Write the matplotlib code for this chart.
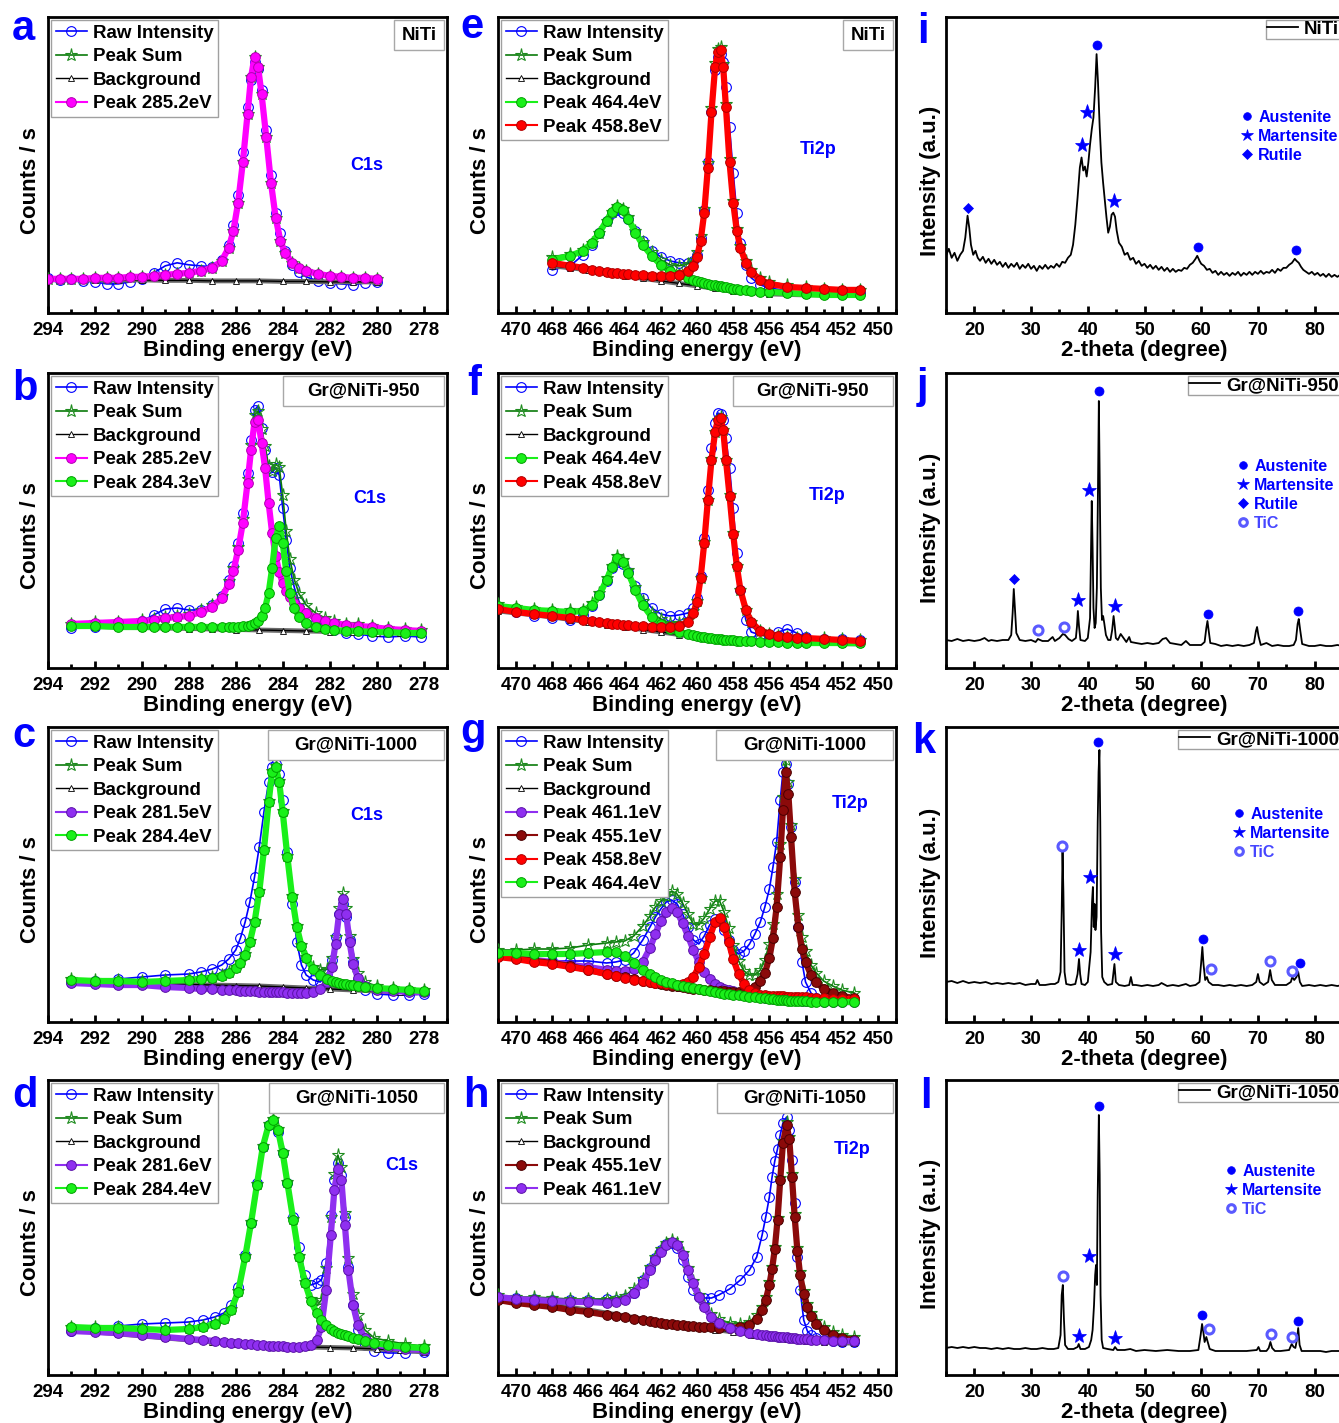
import matplotlib
matplotlib.use("Agg")
import matplotlib.pyplot as plt
from matplotlib.lines import Line2D
from matplotlib.patches import Rectangle
from matplotlib.ticker import MultipleLocator

plt.rcParams["font.family"] = ["Liberation Sans", "DejaVu Sans"]
plt.rcParams["font.weight"] = "bold"

# ---------------- XPS C1s (counts, arbitrary units) ----------------
# a: NiTi
a_be = [294, 293.5, 293, 292.5, 292, 291.5, 291, 290.5, 290, 289.5, 289, 288.5, 288, 287.5, 287,
        286.6, 286.3, 286.1, 285.9, 285.7, 285.5, 285.35, 285.2, 285.05, 284.9, 284.7, 284.5, 284.3,
        284.1, 283.9, 283.6, 283.3, 283, 282.5, 282, 281.5, 281, 280.5, 280]
a_raw = [35, 33, 34, 32, 31, 29, 29, 31, 34, 40, 47, 50, 48, 47, 46, 53, 68, 88, 118, 160, 205, 232,
         250, 243, 222, 182, 138, 100, 80, 62, 48, 41, 36, 32, 30, 29, 28, 30, 31]
a_p2852 = [34, 34, 34, 34, 35, 35, 35, 36, 36, 37, 38, 39, 40, 42, 45, 52, 65, 82, 110, 150, 198, 235,
           255, 245, 218, 175, 130, 95, 72, 60, 50, 45, 42, 39, 37, 36, 35, 35, 34]
a_sum = a_p2852  # single component fit: the sum is that peak
a_bg_be = [294, 293, 292, 291, 290, 289, 288, 287, 286, 285, 284, 283, 282, 281, 280]
a_bg = [33, 33, 33, 33, 33, 32.5, 32.5, 32, 32, 32, 31.5, 31.5, 31, 31, 31]

# b: Gr@NiTi-950
b_be = [293, 292, 291, 290, 289.5, 289, 288.5, 288, 287.5, 287, 286.6, 286.3, 286.1, 285.9, 285.7,
        285.5, 285.35, 285.2, 285.05, 284.9, 284.75, 284.6, 284.45, 284.3, 284.15, 284.0, 283.85,
        283.7, 283.5, 283.3, 283.0, 282.6, 282.2, 281.8, 281.3, 280.8, 280.2, 279.5, 278.8, 278.1]
b_raw = [40, 41, 44, 47, 53, 59, 60, 58, 58, 63, 72, 88, 102, 125, 155, 195, 228, 258, 262, 240,
         218, 200, 196, 200, 193, 160, 128, 100, 80, 66, 55, 46, 42, 38, 35, 34, 32, 31, 32, 31]
b_sum = [44, 46, 46, 48, 49, 51, 52, 54, 58, 63, 72, 87, 100, 121, 149, 189, 223, 253, 257, 239,
         222, 202, 197, 204, 201, 173, 137, 109, 88, 74, 63, 55, 50, 47, 44, 44, 42, 40, 39, 38]
b_p2852 = [44, 45, 46, 47, 48, 50, 51, 52, 56, 61, 70, 84, 97, 118, 145, 185, 218, 246, 248, 225,
           200, 165, 135, 112, 96, 85, 77, 71, 65, 60, 55, 50, 47, 45, 43, 42, 41, 39, 38, 37]
b_p2843 = [42, 42, 41, 41, 41, 41, 41, 41, 41, 41, 41, 41, 41, 41, 42, 42, 43, 45, 47, 52,
           60, 75, 100, 130, 142, 125, 97, 75, 60, 51, 45, 41, 39, 38, 37, 37, 36, 36, 35, 35]
b_bg_be = [293, 292, 291, 290, 289, 288, 287, 286, 285, 284, 283, 282, 281, 280, 279, 278.1]
b_bg = [42, 41.5, 41, 40.5, 40, 39.5, 39, 38.5, 38, 37.5, 37, 36.5, 36, 35.5, 35, 34.5]

# c: Gr@NiTi-1000
c_be = [293, 292, 291, 290, 289, 288, 287.5, 287, 286.6, 286.3, 286.0, 285.8, 285.6, 285.4, 285.2,
        285.0, 284.8, 284.6, 284.45, 284.3, 284.15, 284.0, 283.8, 283.6, 283.4, 283.2, 283.0, 282.7,
        282.4, 282.1, 281.9, 281.75, 281.6, 281.45, 281.3, 281.15, 281.0, 280.8, 280.5, 280.0, 279.3,
        278.6, 278.0]
c_raw = [40, 41, 43, 45, 47, 48, 50, 53, 57, 63, 72, 84, 100, 120, 145, 175, 210, 240, 255, 258,
         248, 222, 170, 118, 80, 57, 47, 42, 40, 48, 62, 85, 108, 118, 105, 82, 60, 42, 32, 28,
         27, 27, 28]
c_sum = [43, 42, 42, 41, 42, 43, 44, 45, 47, 50, 55, 60, 68, 81, 101, 131, 173, 221, 251, 256,
         241, 211, 166, 126, 96, 77, 65, 55, 52, 53, 64, 85, 114, 129, 114, 86, 63, 49, 40, 36,
         34, 33, 32]
c_p2815 = [39, 38, 37, 37, 35, 34, 33, 33, 32, 32, 32, 31, 31, 31, 31, 30, 30, 30, 30, 30,
           30, 30, 29, 29, 29, 29, 29, 30, 33, 40, 55, 78, 108, 123, 108, 80, 58, 44, 36, 32,
           31, 30, 30]
c_p2844 = [42, 41, 41, 40, 41, 42, 43, 44, 46, 49, 54, 59, 67, 80, 100, 130, 172, 220, 250, 255,
           240, 210, 165, 125, 95, 76, 64, 53, 47, 43, 41, 40, 39, 38, 38, 37, 37, 36, 35, 34,
           33, 32, 31]
c_bg_be = [293, 292, 291, 290, 289, 288, 287, 286, 285, 284, 283, 282, 281, 280, 279, 278]
c_bg = [40, 39.5, 39, 38.5, 38, 37.5, 37, 36.5, 36, 35, 34, 33, 32, 31, 30, 29]

# d: Gr@NiTi-1050
d_be = [293, 292, 291, 290, 289, 288, 287.4, 286.9, 286.5, 286.2, 285.9, 285.6, 285.35, 285.1,
        284.85, 284.6, 284.4, 284.2, 284.0, 283.8, 283.55, 283.3, 283.05, 282.8, 282.55, 282.35,
        282.15, 281.95, 281.8, 281.65, 281.5, 281.35, 281.2, 281.0, 280.8, 280.5, 280.1, 279.5,
        278.8, 278.0]
d_raw = [44, 47, 49, 51, 52, 53, 55, 58, 62, 70, 88, 120, 152, 192, 228, 250, 253, 243, 222, 192,
         158, 128, 100, 90, 92, 95, 112, 160, 195, 212, 200, 158, 108, 70, 45, 30, 24, 22, 22, 23]
d_sum = [48, 48, 48, 47, 46, 47, 49, 52, 57, 66, 84, 119, 153, 191, 229, 251, 256, 246, 223, 193,
         156, 119, 93, 76, 69, 75, 107, 158, 201, 220, 208, 162, 117, 81, 60, 45, 37, 34, 31, 29]
d_p2816 = [44, 43, 42, 40, 38, 36, 35, 34, 33, 32, 32, 31, 31, 30, 30, 29, 29, 29, 29, 28,
           28, 28, 29, 30, 35, 48, 85, 140, 185, 206, 195, 150, 105, 70, 50, 37, 31, 28, 26, 25]
d_p2844 = [48, 47, 47, 46, 45, 46, 48, 51, 56, 65, 83, 118, 152, 190, 228, 250, 255, 245, 222, 192,
           155, 118, 92, 74, 62, 55, 50, 46, 44, 42, 41, 40, 39, 37, 36, 34, 32, 30, 28, 27]
d_bg_be = [293, 292, 291, 290, 289, 288, 287, 286, 285, 284, 283, 282, 281, 280, 279, 278]
d_bg = [45, 43, 41, 39, 37, 35, 33, 31.5, 30, 29, 28, 27.5, 27, 26, 25, 23]

# ---------------- XPS Ti2p ----------------
# e: NiTi
e_be = [468, 467, 466.3, 465.8, 465.4, 465.0, 464.7, 464.4, 464.1, 463.8, 463.4, 463.0, 462.5,
        462.0, 461.5, 461.0, 460.5, 460.2, 460.0, 459.8, 459.6, 459.4, 459.2, 459.0, 458.85, 458.7,
        458.55, 458.4, 458.2, 458.0, 457.8, 457.6, 457.3, 457.0, 456.5, 456.0, 455.0, 454.0, 453.0,
        452.0, 451.0]
e_raw = [43, 47, 58, 68, 80, 92, 100, 103, 100, 94, 82, 72, 62, 56, 52, 50, 50, 52, 58, 75,
         103, 150, 200, 242, 255, 258, 250, 225, 185, 140, 100, 70, 48, 35, 28, 25, 22, 20, 19, 19, 20]
e_sum = [56, 59, 63, 70, 80, 92, 101, 107, 104, 96, 82, 71, 61, 53, 48, 47, 49, 53, 61, 77,
         104, 149, 204, 249, 263, 265, 248, 208, 153, 112, 84, 67, 52, 43, 35, 31, 28, 26, 24, 23, 23]
e_p4644 = [53, 57, 62, 70, 80, 92, 101, 106, 103, 94, 80, 68, 57, 48, 42, 38, 35, 33, 32, 31,
           30, 29, 28, 28, 27, 27, 26, 26, 25, 24, 24, 23, 23, 22, 21, 21, 20, 19, 18, 18, 18]
e_p4588 = [50, 47, 45, 43, 42, 41, 40, 40, 39, 39, 38, 38, 37, 37, 37, 38, 42, 47, 56, 72,
           100, 145, 200, 245, 260, 262, 245, 205, 150, 110, 82, 65, 50, 41, 33, 29, 26, 25, 24, 23, 23]
e_bg_be = [468, 467, 466, 465, 464, 463, 462, 461, 460, 459, 458, 457, 456, 455, 454, 453, 452, 451]
e_bg = [47, 45, 43, 40, 37, 34.5, 32, 29.5, 27, 24.5, 22, 20.5, 19, 18.5, 18, 18, 18, 18]

# f: Gr@NiTi-950
f_be = [471, 470, 469, 468, 467, 466.3, 465.8, 465.4, 465.0, 464.7, 464.4, 464.1, 463.8, 463.4,
        463.0, 462.5, 462.0, 461.5, 461.0, 460.5, 460.2, 460.0, 459.8, 459.6, 459.4, 459.2, 459.0,
        458.85, 458.7, 458.55, 458.4, 458.2, 458.0, 457.8, 457.6, 457.3, 457.0, 456.5, 456.0, 455.5,
        455.0, 454.5, 454.0, 453.0, 452.0, 451.0]
f_raw = [60, 56, 52, 50, 48, 53, 62, 73, 87, 100, 106, 104, 96, 82, 70, 60, 54, 52, 53, 55,
         60, 70, 92, 130, 178, 220, 245, 255, 254, 248, 230, 200, 160, 115, 78, 48, 36, 33, 33, 36,
         39, 35, 31, 29, 29, 28]
f_sum = [64, 61, 59, 58, 58, 58, 65, 75, 90, 102, 112, 108, 98, 81, 67, 55, 49, 45, 45, 48,
         57, 67, 90, 126, 168, 209, 236, 248, 251, 238, 208, 173, 135, 102, 78, 58, 46, 37, 34, 32,
         31, 30, 30, 30, 29, 28]
f_p4644 = [62, 60, 58, 57, 56, 57, 63, 73, 88, 101, 110, 106, 95, 78, 63, 51, 44, 39, 36, 34,
           33, 32, 31, 31, 30, 30, 29, 29, 29, 28, 28, 28, 28, 27, 27, 27, 27, 26, 26, 26,
           25, 25, 25, 25, 25, 25]
f_p4588 = [59, 56, 54, 52, 50, 48, 47, 46, 45, 44, 44, 43, 43, 42, 42, 41, 41, 41, 42, 46,
           55, 66, 90, 125, 168, 208, 236, 248, 250, 238, 208, 172, 134, 102, 78, 58, 46, 37, 34, 32,
           31, 30, 30, 29, 28, 27]
f_bg_be = [471, 470, 469, 468, 467, 466, 465, 464, 463, 462, 461, 460, 459, 458, 457, 456, 455,
           454, 453, 452, 451]
f_bg = [57, 55, 53, 51, 48.5, 46, 43.5, 41, 38.5, 36, 33.5, 31, 29, 27, 26.5, 26, 25.5, 25, 24.7,
        24.3, 24]

# g: Gr@NiTi-1000
g_be = [471, 470, 469, 468, 467, 466, 465, 464.5, 464, 463.5, 463, 462.6, 462.3, 462.0, 461.7,
        461.4, 461.1, 460.8, 460.5, 460.2, 459.9, 459.6, 459.3, 459.0, 458.75, 458.5, 458.25, 458.0,
        457.7, 457.4, 457.1, 456.8, 456.5, 456.25, 456.0, 455.8, 455.6, 455.4, 455.25, 455.1, 454.95,
        454.8, 454.6, 454.4, 454.2, 454.0, 453.7, 453.4, 453.0, 452.5, 452.0, 451.3]
g_raw = [66, 64, 62, 61, 61, 61, 59, 60, 62, 69, 82, 95, 105, 113, 120, 122, 118, 108, 95, 82,
         78, 86, 97, 103, 101, 92, 82, 72, 68, 71, 78, 88, 100, 115, 133, 155, 180, 222, 250, 258,
         238, 195, 140, 95, 60, 40, 29, 24, 22, 21, 21, 21]
g_sum = [72, 72, 73, 73, 74, 77, 79, 80, 81, 86, 96, 106, 115, 121, 126, 131, 128, 119, 108, 98,
         97, 104, 113, 121, 121, 110, 94, 77, 61, 51, 47, 47, 52, 62, 78, 98, 128, 178, 225, 262,
         240, 197, 143, 107, 85, 71, 57, 49, 41, 36, 32, 29]
g_p4611 = [67, 65, 62, 60, 57, 55, 52, 51, 51, 53, 60, 74, 88, 101, 110, 114, 110, 99, 86, 72,
           60, 50, 43, 38, 35, 33, 32, 31, 29, 28, 27, 26, 25, 24, 24, 23, 23, 23, 23, 22,
           22, 22, 22, 22, 21, 21, 21, 21, 20, 20, 20, 20]
g_p4551 = [66, 64, 61, 59, 56, 52, 48, 46, 45, 43, 41, 40, 39, 38, 37, 36, 36, 35, 34, 33,
           33, 32, 32, 31, 31, 31, 30, 30, 30, 30, 32, 35, 41, 49, 64, 84, 115, 165, 212, 250,
           228, 185, 130, 95, 73, 60, 47, 40, 33, 29, 26, 24]
g_p4588 = [65, 63, 60, 58, 55, 52, 48, 46, 44, 42, 41, 40, 39, 39, 38, 38, 37, 38, 40, 45,
           55, 68, 85, 100, 104, 95, 80, 63, 48, 38, 32, 29, 27, 27, 26, 26, 26, 26, 26, 25,
           25, 25, 25, 25, 25, 25, 24, 24, 24, 23, 23, 23]
g_p4644 = [69, 69, 68, 68, 68, 69, 70, 70, 66, 59, 52, 48, 45, 42, 40, 39, 37, 36, 35, 34,
           33, 32, 31, 30, 29, 28, 28, 27, 27, 26, 25, 25, 24, 24, 23, 23, 22, 22, 22, 22,
           21, 21, 21, 21, 21, 21, 20, 20, 20, 20, 20, 20]
g_bg_be = [471, 470, 469, 468, 467, 466, 465, 464, 463, 462, 461, 460, 459, 458, 457, 456, 455,
           454, 453, 452, 451.3]
g_bg = [65, 63, 61, 59, 55.5, 52, 48, 44, 40.5, 37, 34.5, 32, 29.5, 27, 25, 23, 22, 21, 20.5, 20, 19]

# h: Gr@NiTi-1050
h_be = [471, 470, 469, 468, 467, 466, 465, 464.5, 464, 463.5, 463, 462.6, 462.3, 462.0, 461.7,
        461.4, 461.1, 460.8, 460.5, 460.2, 459.9, 459.6, 459.2, 458.8, 458.2, 457.6, 457.1, 456.7,
        456.4, 456.2, 456.0, 455.85, 455.7, 455.55, 455.4, 455.25, 455.05, 454.9, 454.75, 454.6,
        454.45, 454.3, 454.1, 453.9, 453.7, 453.4, 453.0, 452.5, 452.0, 451.3]
h_raw = [78, 77, 76, 75, 75, 75, 76, 75, 77, 82, 95, 107, 117, 125, 131, 132, 127, 115, 98, 85,
         78, 77, 77, 80, 86, 95, 105, 118, 140, 158, 178, 198, 214, 226, 240, 252, 258, 245, 215, 172,
         118, 85, 55, 44, 40, 37, 35, 34, 33, 33]
h_sum = [80, 78, 78, 77, 76, 76, 76, 77, 79, 86, 96, 108, 118, 126, 132, 135, 132, 122, 107, 94,
         80, 70, 61, 56, 52, 51, 53, 60, 68, 78, 93, 108, 128, 157, 197, 234, 253, 238, 201, 161,
         127, 103, 84, 71, 62, 54, 48, 43, 40, 38]
h_p4551 = [75, 72, 70, 68, 65, 63, 60, 59, 58, 56, 55, 54, 53, 52, 51, 51, 50, 50, 49, 49,
           48, 48, 48, 47, 47, 48, 50, 56, 65, 75, 90, 106, 126, 155, 195, 232, 250, 236, 198, 158,
           124, 100, 81, 68, 59, 51, 45, 40, 37, 35]
h_p4611 = [78, 76, 75, 74, 73, 73, 72, 73, 75, 82, 92, 105, 115, 123, 130, 133, 130, 120, 105, 92,
           78, 68, 58, 52, 47, 44, 42, 41, 40, 40, 39, 39, 39, 38, 38, 38, 38, 37, 37, 37,
           36, 36, 36, 36, 35, 35, 35, 34, 34, 34]
h_bg_be = g_bg_be
h_bg = [75, 73, 72, 70, 67.5, 65, 62, 59, 56, 53, 50.5, 48, 45.5, 43, 40.5, 38, 36, 34, 33, 32, 32]

# ---------------- XRD patterns: (2-theta, intensity) ----------------
xrd_niti = [(15, 57), (15.5, 64), (16, 55), (16.5, 60), (17, 52), (17.5, 58), (18, 62), (18.4, 75),
            (18.8, 97), (19.1, 85), (19.4, 68), (19.8, 58), (20.2, 62), (20.6, 55), (21, 52), (21.5, 56),
            (22, 50), (22.5, 54), (23, 49), (23.5, 53), (24, 48), (24.5, 51), (25, 46), (25.5, 50),
            (26, 45), (26.5, 49), (27, 46), (27.5, 50), (28, 44), (28.5, 48), (29, 45), (29.5, 49),
            (30, 44), (30.5, 47), (31, 42), (31.5, 47), (32, 44), (32.5, 48), (33, 44), (33.5, 47),
            (34, 45), (34.5, 49), (35, 46), (35.5, 51), (36, 50), (36.5, 55), (37, 58), (37.4, 68),
            (37.8, 88), (38.2, 115), (38.6, 145), (38.9, 155), (39.2, 142), (39.5, 146), (39.8, 136),
            (40.1, 150), (40.4, 168), (40.7, 183), (41.0, 195), (41.3, 225), (41.55, 258), (41.8, 230),
            (42.1, 185), (42.4, 150), (42.7, 130), (43.0, 112), (43.3, 95), (43.6, 80), (43.9, 86),
            (44.2, 98), (44.5, 100), (44.8, 96), (45.1, 82), (45.5, 70), (46, 66), (46.5, 58), (47, 60),
            (47.5, 53), (48, 55), (48.5, 49), (49, 52), (49.5, 47), (50, 49), (50.5, 45), (51, 48),
            (51.5, 44), (52, 47), (52.5, 43), (53, 46), (53.5, 42), (54, 45), (54.5, 41), (55, 44),
            (55.5, 41), (56, 43), (56.5, 42), (57, 45), (57.5, 44), (58, 48), (58.5, 50), (59, 54),
            (59.3, 57), (59.7, 52), (60, 49), (60.5, 47), (61, 43), (61.5, 44), (62, 40), (62.5, 42),
            (63, 38), (63.5, 41), (64, 38), (64.5, 40), (65, 37), (65.5, 40), (66, 38), (66.5, 41),
            (67, 37), (67.5, 40), (68, 38), (68.5, 41), (69, 38), (69.5, 41), (70, 39), (70.5, 42),
            (71, 39), (71.5, 41), (72, 40), (72.5, 43), (73, 40), (73.5, 44), (74, 42), (74.5, 45),
            (75, 45), (75.5, 48), (76, 50), (76.5, 54), (76.8, 52), (77.2, 50), (77.6, 46), (78, 43),
            (78.5, 41), (79, 39), (79.5, 41), (80, 38), (80.5, 40), (81, 37), (81.5, 39), (82, 36),
            (82.5, 39), (83, 36), (83.5, 38), (84, 36), (84.5, 38), (85, 36)]
xrd_950 = [(15, 28), (16, 27), (17, 29), (18, 27), (19, 28), (20, 27), (21, 28), (21.8, 30), (22.5, 27),
           (23, 28), (24, 27), (25, 28), (26, 28), (26.5, 33), (26.75, 55), (26.95, 79), (27.15, 60),
           (27.4, 35), (28, 28), (29, 27), (30, 28), (30.8, 26), (31.2, 29), (32, 27), (33, 27),
           (33.8, 31), (34.2, 27), (35, 30), (35.6, 34), (36, 33), (36.6, 29), (37.2, 27), (37.9, 30),
           (38.1, 42), (38.25, 57), (38.45, 42), (38.7, 28), (39.5, 27), (40.0, 30), (40.4, 50),
           (40.55, 110), (40.7, 167), (40.85, 120), (41.0, 60), (41.2, 40), (41.4, 45), (41.6, 80),
           (41.8, 180), (41.95, 267), (42.1, 190), (42.3, 80), (42.5, 48), (42.7, 52), (42.9, 45),
           (43.2, 33), (43.6, 28), (44.0, 28), (44.3, 38), (44.55, 52), (44.75, 42), (44.95, 30),
           (45.3, 28), (45.8, 34), (46.3, 30), (46.8, 26), (47.3, 31), (47.6, 26), (48.5, 25),
           (49.5, 24), (50.5, 25), (51.5, 24), (52.5, 25), (53.2, 29), (53.8, 30), (54.5, 25),
           (55.5, 24), (56.5, 23), (57.3, 27), (58, 23), (59, 23), (60, 23), (60.6, 26), (60.9, 40),
           (61.1, 47), (61.3, 38), (61.6, 25), (62.5, 24), (63.5, 22), (64.5, 23), (65.5, 22),
           (66.5, 23), (67.5, 22), (68.5, 23), (69.3, 25), (69.65, 37), (69.85, 41), (70.1, 32),
           (70.5, 23), (71.5, 25), (72.5, 22), (73.5, 23), (74.5, 22), (75.5, 22), (76.3, 23),
           (76.7, 28), (77.0, 44), (77.2, 49), (77.45, 38), (77.8, 24), (79, 22), (80, 22), (81, 23),
           (82, 22), (83, 22), (84, 23), (85, 22)]
xrd_1000 = [(15, 40), (16, 41), (17, 39), (18, 41), (19, 39), (20, 40), (21, 39), (22, 40), (23, 38),
            (24, 39), (25, 38), (26, 39), (27, 38), (28, 39), (29, 37), (30, 38), (30.8, 38), (31.1, 42),
            (31.5, 37), (32.5, 37), (33.5, 38), (34.2, 38), (34.8, 40), (35.2, 50), (35.4, 110),
            (35.55, 170), (35.7, 130), (35.9, 50), (36.2, 38), (37, 37), (37.8, 38), (38.2, 48),
            (38.45, 63), (38.65, 48), (38.9, 38), (39.5, 37), (40.0, 40), (40.5, 70), (40.75, 120),
            (40.9, 135), (41.05, 95), (41.2, 118), (41.35, 92), (41.55, 105), (41.75, 200), (41.9, 250),
            (42.05, 272), (42.2, 200), (42.35, 90), (42.55, 45), (42.9, 40), (43.5, 37), (44.3, 38),
            (44.7, 58), (44.95, 40), (45.5, 37), (46.5, 36), (47.3, 37), (47.6, 45), (47.9, 37),
            (48.5, 37), (49.5, 36), (50.5, 37), (51.5, 36), (52.5, 37), (53, 39), (54, 36), (55, 37),
            (56, 36), (57.3, 38), (58, 36), (59, 37), (59.7, 40), (60.0, 60), (60.2, 75), (60.4, 58),
            (60.7, 42), (61, 45), (61.3, 40), (62, 37), (63, 37), (64, 36), (65, 37), (66, 36), (67, 37),
            (68, 36), (69, 37), (69.7, 40), (70.0, 48), (70.3, 40), (71, 37), (71.8, 40), (72.15, 52),
            (72.45, 42), (73, 37), (74, 37), (75, 37), (75.8, 40), (76.05, 45), (76.4, 42), (76.8, 45),
            (77.1, 50), (77.4, 40), (77.8, 36), (79, 37), (80, 36), (81, 37), (82, 36), (83, 37),
            (84, 36), (85, 37)]
xrd_1050 = [(15, 27), (16, 28), (17, 27), (18, 28), (19, 27), (20, 28), (21, 27), (22, 27), (23, 26),
            (24, 27), (25, 26), (26, 27), (27, 26), (28, 26), (29, 27), (30, 26), (31, 26), (32, 27),
            (33, 26), (34, 26), (34.8, 27), (35.2, 40), (35.4, 80), (35.6, 90), (35.8, 55), (36.0, 30),
            (36.5, 26), (37.5, 26), (38.2, 28), (38.4, 31), (38.7, 26), (39.5, 26), (40.2, 28),
            (40.6, 35), (40.85, 45), (41.1, 70), (41.3, 100), (41.45, 110), (41.6, 90), (41.75, 180),
            (41.95, 260), (42.1, 200), (42.25, 80), (42.45, 35), (42.7, 27), (43.5, 26), (44.5, 25),
            (44.8, 28), (45.2, 25), (46.5, 25), (47.5, 26), (48.5, 24), (50, 25), (52, 24), (54, 25),
            (56, 24), (58, 24), (59.5, 25), (59.9, 40), (60.15, 51), (60.4, 42), (60.6, 33), (60.9, 38),
            (61.1, 34), (61.5, 26), (62.5, 24), (64, 24), (66, 24), (68, 24), (69.8, 25), (70.1, 28),
            (70.4, 24), (71.5, 24), (71.9, 27), (72.2, 33), (72.5, 27), (73, 24), (74, 24), (75.5, 25),
            (75.95, 31), (76.3, 28), (76.6, 27), (76.9, 36), (77.1, 47), (77.35, 30), (77.7, 24),
            (79, 24), (80, 24), (81, 24), (82, 23), (83, 24), (84, 24), (85, 24)]

# phase markers above the XRD peaks: (2-theta list, height list)
i_austenite = ([41.7, 59.35, 76.66], [267, 66, 63])
i_martensite = ([38.94, 39.82, 44.63], [167, 200, 112])
i_rutile = ([18.83], [105])
j_austenite = ([41.96, 61.16, 77.08], [277, 54, 57])
j_martensite = ([38.32, 40.2, 44.72], [68, 178, 62])
j_rutile = ([27.05], [89])
j_tic = ([31.16, 35.8], [38, 41])
k_austenite = ([41.88, 60.23, 77.36], [280, 83, 59])
k_martensite = ([38.53, 40.41, 44.8], [72, 145, 68])
k_tic = ([35.54, 61.64, 72.2, 75.95], [176, 53, 61, 51])
l_austenite = ([41.94, 60.18, 77.13], [269, 60, 54])
l_martensite = ([38.48, 40.3, 44.87], [39, 119, 37])
l_tic = ([35.6, 61.35, 72.26, 76.0], [99, 46, 41, 38])

# ---------------- layout ----------------
W, H = 1339, 1423
BLUE = "#0000ff"
LEFT, MID, RIGHT = (48, 447), (498, 896), (946, 1343)
ROWS = [(17, 313), (373, 668), (727, 1022), (1080, 1375)]

fig = plt.figure(figsize=(W / 100, H / 100), dpi=100)


def fx(x):
    return x / W


def fy(y):
    return 1 - y / H


def px_axes(col, row):
    x0, x1 = col
    y0, y1 = ROWS[row]
    return fig.add_axes([fx(x0), fy(y1), (x1 - x0) / W, (y1 - y0) / H])


def frame(ax, xlim, major, xlabel, ylabel, ylab_x, ylab_y):
    ax.set_xlim(*xlim)
    ax.set_ylim(0, 295)
    ax.xaxis.set_major_locator(MultipleLocator(major))
    ax.xaxis.set_minor_locator(MultipleLocator(major / 2))
    ax.set_yticks([])
    ax.tick_params(axis="x", which="major", direction="in", length=5, width=2,
                   labelsize=13.5, pad=6.5, top=False)
    ax.tick_params(axis="x", which="minor", direction="in", length=3, width=2, top=False)
    for s in ax.spines.values():
        s.set_linewidth(2)
    ax.set_xlabel(xlabel, fontsize=16, fontweight="bold")
    ax.xaxis.set_label_coords(0.5, -0.126)
    ax.xaxis.label.set_va("center")
    ax.set_ylabel(ylabel, fontsize=16, fontweight="bold")
    ax.yaxis.set_label_coords(ylab_x, ylab_y)
    ax.yaxis.label.set_va("center")


def draw_xps(ax, be, raw, total, bg_be, bg, peaks):
    ax.plot(be, raw, color=BLUE, lw=1.2, marker="o", ms=7, mfc="none", mec=BLUE, mew=0.8,
            label="Raw Intensity", zorder=2)
    ax.plot(be, total, color="#0a7a0a", lw=1.2, marker="*", ms=9.5, mfc="none", mec="#1e8c1e",
            mew=0.8, label="Peak Sum", zorder=3)
    ax.plot(bg_be, bg, color="#6a6a6a", lw=3.5, zorder=3.4)
    ax.plot(bg_be, bg, color="black", lw=1, marker="^", ms=5, mfc="white", mec="black", mew=0.6,
            label="Background", zorder=3.5)
    for k, (name, vals, color, edge) in enumerate(peaks):
        z = 5 + k
        ax.plot(be, vals, color=color, lw=4.5, zorder=z, solid_capstyle="round")
        ax.plot(be, vals, color=color, lw=1.5, marker="o", ms=7, mfc=color, mec=edge, mew=0.7,
                label=name, zorder=z + 0.5)
    leg = ax.legend(loc="upper left", bbox_to_anchor=(0, 1), borderaxespad=0.15, fontsize=13.5,
                    handlelength=1.7, handletextpad=0.3, labelspacing=0.34, borderpad=0.25,
                    numpoints=1, fancybox=False, framealpha=1, edgecolor="#a0a0a0")
    leg.get_frame().set_linewidth(1.0)


def sample_tag(col, row, width, text):
    x1 = col[1] - 3
    x0 = x1 - width
    y0 = ROWS[row][0] + 3
    y1 = y0 + 30
    fig.add_artist(Rectangle((fx(x0), fy(y1)), (x1 - x0) / W, (y1 - y0) / H,
                             transform=fig.transFigure, fc="white", ec="#a8a8a8", lw=1))
    fig.text(fx((x0 + x1) / 2), fy((y0 + y1) / 2), text, ha="center", va="center", fontsize=13.5)


MAG, LIME, RED, PURP, MAROON = "#ff00ff", "#1af01a", "#ff0000", "#8f2ff0", "#8b0a0a"

xps_panels = [
    ("a", LEFT, 0, (294, 277), a_be, a_raw, a_sum, a_bg_be, a_bg,
     [("Peak 285.2eV", a_p2852, MAG, "#b000b0")], "NiTi", 50, "C1s", (367, 165)),
    ("b", LEFT, 1, (294, 277), b_be, b_raw, b_sum, b_bg_be, b_bg,
     [("Peak 285.2eV", b_p2852, MAG, "#b000b0"), ("Peak 284.3eV", b_p2843, LIME, "#00a000")],
     "Gr@NiTi-950", 161, "C1s", (370, 499)),
    ("c", LEFT, 2, (294, 277), c_be, c_raw, c_sum, c_bg_be, c_bg,
     [("Peak 281.5eV", c_p2815, PURP, "#5a12a8"), ("Peak 284.4eV", c_p2844, LIME, "#00a000")],
     "Gr@NiTi-1000", 176, "C1s", (367, 815)),
    ("d", LEFT, 3, (294, 277), d_be, d_raw, d_sum, d_bg_be, d_bg,
     [("Peak 281.6eV", d_p2816, PURP, "#5a12a8"), ("Peak 284.4eV", d_p2844, LIME, "#00a000")],
     "Gr@NiTi-1050", 175, "C1s", (402, 1165)),
    ("e", MID, 0, (471, 449), e_be, e_raw, e_sum, e_bg_be, e_bg,
     [("Peak 464.4eV", e_p4644, LIME, "#00a000"), ("Peak 458.8eV", e_p4588, RED, "#b00000")],
     "NiTi", 50, "Ti2p", (818, 150)),
    ("f", MID, 1, (471, 449), f_be, f_raw, f_sum, f_bg_be, f_bg,
     [("Peak 464.4eV", f_p4644, LIME, "#00a000"), ("Peak 458.8eV", f_p4588, RED, "#b00000")],
     "Gr@NiTi-950", 160, "Ti2p", (827, 496)),
    ("g", MID, 2, (471, 449), g_be, g_raw, g_sum, g_bg_be, g_bg,
     [("Peak 461.1eV", g_p4611, PURP, "#5a12a8"), ("Peak 455.1eV", g_p4551, MAROON, "#4a0000"),
      ("Peak 458.8eV", g_p4588, RED, "#b00000"), ("Peak 464.4eV", g_p4644, LIME, "#00a000")],
     "Gr@NiTi-1000", 177, "Ti2p", (850, 803)),
    ("h", MID, 3, (471, 449), h_be, h_raw, h_sum, h_bg_be, h_bg,
     [("Peak 455.1eV", h_p4551, MAROON, "#4a0000"), ("Peak 461.1eV", h_p4611, PURP, "#5a12a8")],
     "Gr@NiTi-1050", 176, "Ti2p", (852, 1149)),
]

for (letter, col, row, xlim, be, raw, total, bg_be, bg, peaks, tag, tag_w, core, core_xy) in xps_panels:
    ax = px_axes(col, row)
    draw_xps(ax, be, raw, total, bg_be, bg, peaks)
    frame(ax, xlim, 2, "Binding energy (eV)", "Counts / s", -0.045, 0.449)
    sample_tag(col, row, tag_w, tag)
    fig.text(fx(core_xy[0]), fy(core_xy[1]), core, ha="center", va="center", fontsize=13, color=BLUE)

PHASE_STYLE = {
    "Austenite": dict(marker="o", ms=6.5, mfc=BLUE, mec=BLUE, mew=0.5),
    "Martensite": dict(marker="*", ms=11, mfc=BLUE, mec=BLUE, mew=0.5),
    "Rutile": dict(marker="D", ms=5.5, mfc=BLUE, mec=BLUE, mew=0.5),
    "TiC": dict(marker="o", ms=6.5, mfc="white", mec="#5a5aff", mew=2.2),
}

xrd_panels = [
    (0, xrd_niti, "NiTi", {"Austenite": i_austenite, "Martensite": i_martensite, "Rutile": i_rutile},
     (1240.6, 110), 0.447),
    (1, xrd_950, "Gr@NiTi-950", {"Austenite": j_austenite, "Martensite": j_martensite,
                                  "Rutile": j_rutile, "TiC": j_tic}, (1236.6, 459), 0.475),
    (2, xrd_1000, "Gr@NiTi-1000", {"Austenite": k_austenite, "Martensite": k_martensite,
                                    "TiC": k_tic}, (1232.6, 807), 0.473),
    (3, xrd_1050, "Gr@NiTi-1050", {"Austenite": l_austenite, "Martensite": l_martensite,
                                    "TiC": l_tic}, (1224.6, 1164), 0.478),
]

for row, pattern, name, phases, key_xy, ylab_y in xrd_panels:
    ax = px_axes(RIGHT, row)
    theta = [p[0] for p in pattern]
    inten = [p[1] for p in pattern]
    line, = ax.plot(theta, inten, color="black", lw=1.3, zorder=3)
    handles, labels, colors = [], [], []
    for phase, (px, py) in phases.items():
        st = PHASE_STYLE[phase]
        ax.plot(px, py, ls="none", zorder=4, **st)
        small = dict(st)
        small["ms"] = st["ms"] * 0.85
        handles.append(Line2D([], [], ls="none", **small))
        labels.append(phase)
        colors.append("#4646ff" if phase == "TiC" else BLUE)
    key = ax.legend(handles, labels, loc="upper left", bbox_to_anchor=(fx(key_xy[0]), fy(key_xy[1])),
                    bbox_transform=fig.transFigure, frameon=False, fontsize=11.5, labelcolor=colors,
                    handlelength=0.8, handletextpad=0.3, labelspacing=0.24, borderpad=0,
                    borderaxespad=0, numpoints=1)
    ax.add_artist(key)
    leg = ax.legend([line], [name], loc="upper right", bbox_to_anchor=(1, 1), borderaxespad=0.15,
                    fontsize=13.5, handlelength=1.65, handletextpad=0.35, borderpad=0.05,
                    fancybox=False, framealpha=1, edgecolor="#a0a0a0")
    leg.get_frame().set_linewidth(1.0)
    frame(ax, (15, 85), 10, "2-theta (degree)", "Intensity (a.u.)", -0.04, ylab_y)

# panel letters (x, baseline) in pixels
letters = {"a": (12, 40), "b": (12, 400), "c": (12, 747), "d": (12, 1107),
           "e": (460, 38), "f": (467, 395), "g": (460, 743), "h": (463, 1107),
           "i": (917, 43), "j": (917, 398), "k": (912, 753), "l": (920, 1108)}
for letter, (x, y) in letters.items():
    fig.text(fx(x), fy(y), letter, fontsize=30, color=BLUE, va="baseline", ha="left")

fig.savefig("out.png", dpi=100)
